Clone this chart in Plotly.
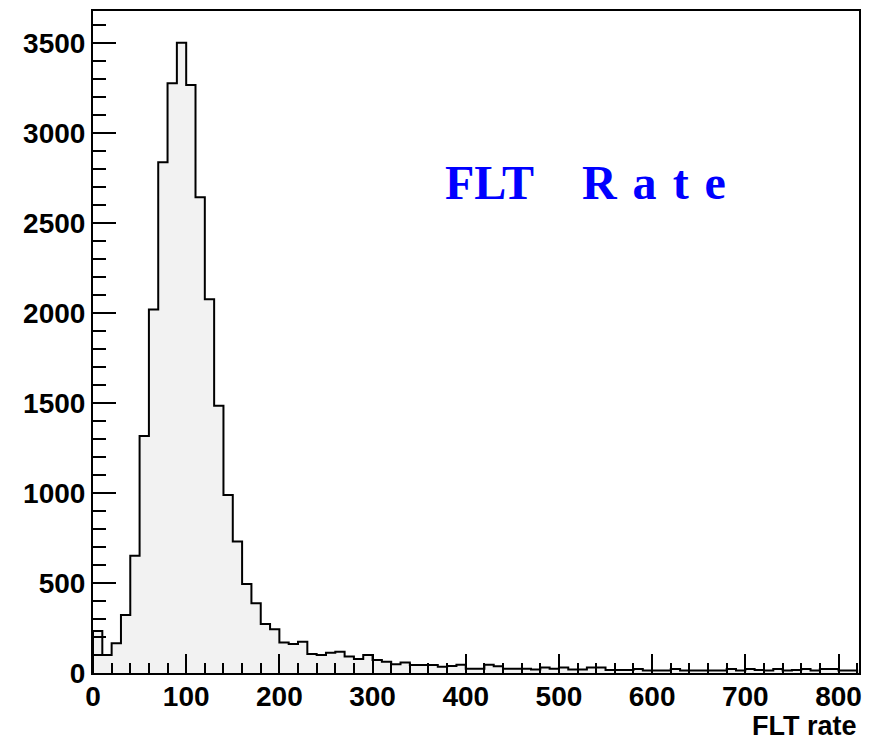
import plotly.graph_objects as go

bin_width = 10
counts = [233, 100, 165, 322, 652, 1317, 2020, 2837, 3276, 3502,
          3267, 2643, 2076, 1485, 989, 730, 494, 387, 272, 243,
          170, 161, 174, 105, 100, 113, 118, 91, 78, 100,
          72, 63, 48, 59, 44, 44, 44, 35, 39, 46,
          24, 24, 46, 37, 24, 24, 24, 19, 30, 24,
          30, 19, 19, 30, 30, 17, 17, 17, 22, 14,
          14, 14, 22, 14, 14, 14, 14, 14, 22, 14,
          22, 17, 14, 22, 14, 17, 22, 14, 22, 22,
          14, 14]
edges = [i * bin_width for i in range(len(counts) + 1)]
x_ticks = [0, 100, 200, 300, 400, 500, 600, 700, 800]
y_ticks = [0, 500, 1000, 1500, 2000, 2500, 3000, 3500]

xs = [edges[0]] + edges
ys = [0] + counts + [0]

fig = go.Figure()
fig.add_trace(go.Scatter(
    x=xs, y=ys, mode="lines", line=dict(shape="hv", color="black", width=2),
    fill="tozeroy", fillcolor="#f2f2f2", showlegend=False, hoverinfo="skip"))

tickfont = dict(family="Liberation Sans, Arial, sans-serif", size=28, color="black", weight="bold")
sp = "\u00a0\u200a"
fig.update_layout(
    width=869, height=740,
    margin=dict(l=93, r=7, t=11, b=67),
    paper_bgcolor="white", plot_bgcolor="white",
    xaxis=dict(range=[0, 822], tickvals=x_ticks, ticks="inside", ticklen=19, tickwidth=2,
               tickcolor="black", showline=True, linecolor="black", linewidth=2, mirror=True,
               showgrid=False, zeroline=False, tickfont=tickfont, ticklabelstandoff=-3,
               minor=dict(dtick=20, tick0=0, ticks="inside", ticklen=10, tickwidth=2, tickcolor="black", showgrid=False)),
    yaxis=dict(range=[0, 3678], tickvals=y_ticks, ticks="inside", ticklen=23, tickwidth=2,
               tickcolor="black", showline=True, linecolor="black", linewidth=2, mirror=True,
               showgrid=False, zeroline=False, tickfont=tickfont,
               minor=dict(dtick=100, tick0=0, ticks="inside", ticklen=13, tickwidth=2, tickcolor="black", showgrid=False)),
    annotations=[
        dict(text="FLT rate", xref="paper", yref="paper", x=1.0, y=0, xanchor="right", yanchor="top",
             yshift=-36, showarrow=False,
             font=dict(family="Liberation Sans, Arial, sans-serif", size=27, color="black", weight="bold")),
        dict(text="FLT\u00a0\u00a0\u00a0\u00a0R" + sp + "a" + sp + "t" + sp + "e",
             xref="paper", yref="paper",
             x=(444 - 93) / 769, y=(673 - 183) / 662, xanchor="left", yanchor="middle", showarrow=False,
             font=dict(family="Liberation Serif, Times New Roman, serif", size=48, color="blue", weight="bold")),
    ],
)

fig.write_html("out.html")
